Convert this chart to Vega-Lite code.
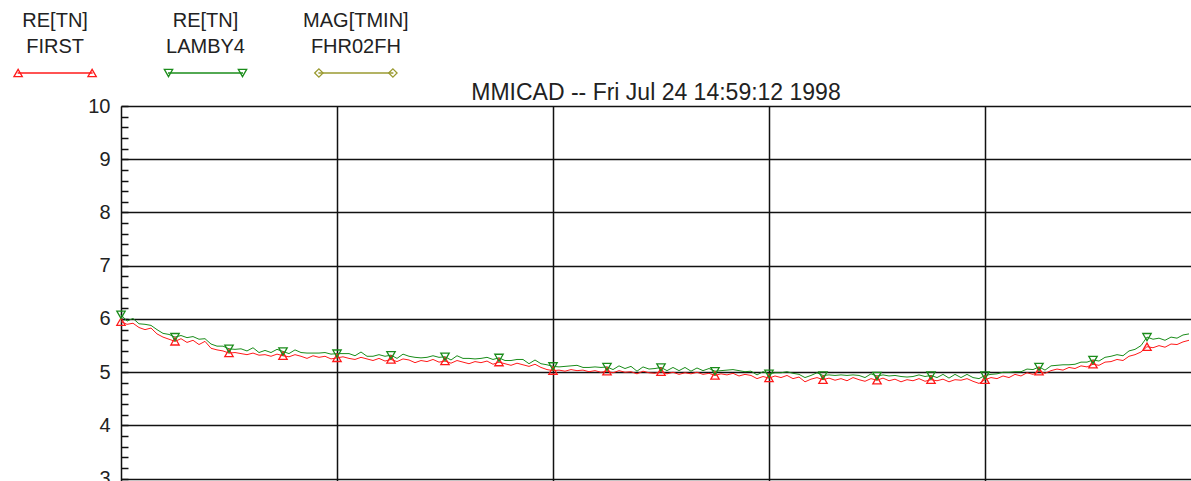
{
"$schema":"https://vega.github.io/schema/vega-lite/v6.json",
"background":"white",
"padding":{"left":10,"top":11,"right":0,"bottom":0},
"spacing":2,
"config":{"font":"Liberation Sans","view":{"stroke":null}},
"datasets":{
"legend":[{"series":"FIRST","l1":"RE[TN]","l2":"FIRST"},{"series":"LAMBY4","l1":"RE[TN]","l2":"LAMBY4"},{"series":"FHR02FH","l1":"MAG[TMIN]","l2":"FHR02FH"}],
"series":[
{"x":0,"FIRST":5.95,"LAMBY4":6.08},{"x":6,"FIRST":5.90,"LAMBY4":5.96},{"x":12,"FIRST":5.92,"LAMBY4":6.01},{"x":18,"FIRST":5.84,"LAMBY4":5.91},{"x":24,"FIRST":5.80,"LAMBY4":5.90},{"x":30,"FIRST":5.83,"LAMBY4":5.88},{"x":36,"FIRST":5.72,"LAMBY4":5.80},{"x":42,"FIRST":5.66,"LAMBY4":5.73},{"x":48,"FIRST":5.62,"LAMBY4":5.71},{"x":54,"FIRST":5.58,"LAMBY4":5.66},
{"x":60,"FIRST":5.63,"LAMBY4":5.69},{"x":66,"FIRST":5.56,"LAMBY4":5.65},{"x":72,"FIRST":5.60,"LAMBY4":5.67},{"x":78,"FIRST":5.52,"LAMBY4":5.62},{"x":84,"FIRST":5.58,"LAMBY4":5.63},{"x":90,"FIRST":5.45,"LAMBY4":5.53},{"x":96,"FIRST":5.42,"LAMBY4":5.49},{"x":102,"FIRST":5.40,"LAMBY4":5.49},{"x":108,"FIRST":5.36,"LAMBY4":5.44},{"x":114,"FIRST":5.37,"LAMBY4":5.43},
{"x":120,"FIRST":5.35,"LAMBY4":5.44},{"x":126,"FIRST":5.33,"LAMBY4":5.40},{"x":132,"FIRST":5.36,"LAMBY4":5.46},{"x":138,"FIRST":5.32,"LAMBY4":5.37},{"x":144,"FIRST":5.33,"LAMBY4":5.41},{"x":150,"FIRST":5.30,"LAMBY4":5.37},{"x":156,"FIRST":5.34,"LAMBY4":5.43},{"x":162,"FIRST":5.31,"LAMBY4":5.39},{"x":168,"FIRST":5.29,"LAMBY4":5.35},{"x":174,"FIRST":5.33,"LAMBY4":5.42},
{"x":180,"FIRST":5.30,"LAMBY4":5.37},{"x":186,"FIRST":5.26,"LAMBY4":5.36},{"x":192,"FIRST":5.31,"LAMBY4":5.36},{"x":198,"FIRST":5.28,"LAMBY4":5.36},{"x":204,"FIRST":5.30,"LAMBY4":5.37},{"x":210,"FIRST":5.25,"LAMBY4":5.34},{"x":216,"FIRST":5.27,"LAMBY4":5.35},{"x":222,"FIRST":5.29,"LAMBY4":5.35},{"x":228,"FIRST":5.26,"LAMBY4":5.35},{"x":234,"FIRST":5.24,"LAMBY4":5.31},
{"x":240,"FIRST":5.28,"LAMBY4":5.38},{"x":246,"FIRST":5.25,"LAMBY4":5.30},{"x":252,"FIRST":5.22,"LAMBY4":5.30},{"x":258,"FIRST":5.26,"LAMBY4":5.33},{"x":264,"FIRST":5.21,"LAMBY4":5.30},{"x":270,"FIRST":5.24,"LAMBY4":5.32},{"x":276,"FIRST":5.20,"LAMBY4":5.26},{"x":282,"FIRST":5.25,"LAMBY4":5.34},{"x":288,"FIRST":5.23,"LAMBY4":5.30},{"x":294,"FIRST":5.18,"LAMBY4":5.28},
{"x":300,"FIRST":5.22,"LAMBY4":5.27},{"x":306,"FIRST":5.20,"LAMBY4":5.28},{"x":312,"FIRST":5.24,"LAMBY4":5.31},{"x":318,"FIRST":5.19,"LAMBY4":5.28},{"x":324,"FIRST":5.21,"LAMBY4":5.29},{"x":330,"FIRST":5.17,"LAMBY4":5.23},{"x":336,"FIRST":5.22,"LAMBY4":5.31},{"x":342,"FIRST":5.19,"LAMBY4":5.26},{"x":348,"FIRST":5.16,"LAMBY4":5.26},{"x":354,"FIRST":5.20,"LAMBY4":5.25},
{"x":360,"FIRST":5.18,"LAMBY4":5.26},{"x":366,"FIRST":5.21,"LAMBY4":5.28},{"x":372,"FIRST":5.15,"LAMBY4":5.24},{"x":378,"FIRST":5.19,"LAMBY4":5.27},{"x":384,"FIRST":5.16,"LAMBY4":5.22},{"x":390,"FIRST":5.13,"LAMBY4":5.22},{"x":396,"FIRST":5.17,"LAMBY4":5.24},{"x":402,"FIRST":5.14,"LAMBY4":5.24},{"x":408,"FIRST":5.11,"LAMBY4":5.16},{"x":414,"FIRST":5.15,"LAMBY4":5.23},
{"x":420,"FIRST":5.09,"LAMBY4":5.16},{"x":426,"FIRST":5.05,"LAMBY4":5.14},{"x":432,"FIRST":5.03,"LAMBY4":5.11},{"x":438,"FIRST":5.04,"LAMBY4":5.10},{"x":444,"FIRST":5.02,"LAMBY4":5.11},{"x":450,"FIRST":5.05,"LAMBY4":5.12},{"x":456,"FIRST":5.03,"LAMBY4":5.13},{"x":462,"FIRST":5.04,"LAMBY4":5.09},{"x":468,"FIRST":5.01,"LAMBY4":5.09},{"x":474,"FIRST":5.03,"LAMBY4":5.10},
{"x":480,"FIRST":5.00,"LAMBY4":5.09},{"x":486,"FIRST":5.02,"LAMBY4":5.10},{"x":492,"FIRST":4.99,"LAMBY4":5.05},{"x":498,"FIRST":5.03,"LAMBY4":5.12},{"x":504,"FIRST":5.00,"LAMBY4":5.07},{"x":510,"FIRST":5.01,"LAMBY4":5.11},{"x":516,"FIRST":4.97,"LAMBY4":5.02},{"x":522,"FIRST":5.02,"LAMBY4":5.10},{"x":528,"FIRST":4.99,"LAMBY4":5.06},{"x":534,"FIRST":4.98,"LAMBY4":5.07},
{"x":540,"FIRST":5.01,"LAMBY4":5.09},{"x":546,"FIRST":4.97,"LAMBY4":5.03},{"x":552,"FIRST":5.00,"LAMBY4":5.09},{"x":558,"FIRST":4.96,"LAMBY4":5.03},{"x":564,"FIRST":4.99,"LAMBY4":5.09},{"x":570,"FIRST":4.97,"LAMBY4":5.02},{"x":576,"FIRST":5.00,"LAMBY4":5.08},{"x":582,"FIRST":4.96,"LAMBY4":5.03},{"x":588,"FIRST":4.98,"LAMBY4":5.07},{"x":594,"FIRST":4.94,"LAMBY4":5.02},
{"x":600,"FIRST":4.97,"LAMBY4":5.03},{"x":606,"FIRST":4.95,"LAMBY4":5.04},{"x":612,"FIRST":4.98,"LAMBY4":5.05},{"x":618,"FIRST":4.93,"LAMBY4":5.03},{"x":624,"FIRST":4.96,"LAMBY4":5.01},{"x":630,"FIRST":4.94,"LAMBY4":5.02},{"x":636,"FIRST":4.88,"LAMBY4":4.95},{"x":642,"FIRST":4.92,"LAMBY4":5.01},{"x":648,"FIRST":4.89,"LAMBY4":4.97},{"x":654,"FIRST":4.93,"LAMBY4":4.99},
{"x":660,"FIRST":4.90,"LAMBY4":4.99},{"x":666,"FIRST":4.94,"LAMBY4":5.01},{"x":672,"FIRST":4.88,"LAMBY4":4.98},{"x":678,"FIRST":4.91,"LAMBY4":4.96},{"x":684,"FIRST":4.82,"LAMBY4":4.90},{"x":690,"FIRST":4.87,"LAMBY4":4.94},{"x":696,"FIRST":4.90,"LAMBY4":4.99},{"x":702,"FIRST":4.86,"LAMBY4":4.94},{"x":708,"FIRST":4.89,"LAMBY4":4.95},{"x":714,"FIRST":4.85,"LAMBY4":4.94},
{"x":720,"FIRST":4.88,"LAMBY4":4.95},{"x":726,"FIRST":4.84,"LAMBY4":4.94},{"x":732,"FIRST":4.90,"LAMBY4":4.95},{"x":738,"FIRST":4.86,"LAMBY4":4.94},{"x":744,"FIRST":4.83,"LAMBY4":4.90},{"x":750,"FIRST":4.88,"LAMBY4":4.97},{"x":756,"FIRST":4.85,"LAMBY4":4.93},{"x":762,"FIRST":4.89,"LAMBY4":4.95},{"x":768,"FIRST":4.84,"LAMBY4":4.93},{"x":774,"FIRST":4.87,"LAMBY4":4.94},
{"x":780,"FIRST":4.82,"LAMBY4":4.92},{"x":786,"FIRST":4.86,"LAMBY4":4.91},{"x":792,"FIRST":4.84,"LAMBY4":4.92},{"x":798,"FIRST":4.88,"LAMBY4":4.95},{"x":804,"FIRST":4.83,"LAMBY4":4.92},{"x":810,"FIRST":4.86,"LAMBY4":4.94},{"x":816,"FIRST":4.84,"LAMBY4":4.90},{"x":822,"FIRST":4.87,"LAMBY4":4.96},{"x":828,"FIRST":4.82,"LAMBY4":4.89},{"x":834,"FIRST":4.86,"LAMBY4":4.96},
{"x":840,"FIRST":4.85,"LAMBY4":4.90},{"x":846,"FIRST":4.88,"LAMBY4":4.96},{"x":852,"FIRST":4.83,"LAMBY4":4.90},{"x":858,"FIRST":4.79,"LAMBY4":4.88},{"x":864,"FIRST":4.86,"LAMBY4":4.94},{"x":870,"FIRST":4.90,"LAMBY4":4.96},{"x":876,"FIRST":4.88,"LAMBY4":4.97},{"x":882,"FIRST":4.93,"LAMBY4":5.00},{"x":888,"FIRST":4.90,"LAMBY4":5.00},{"x":894,"FIRST":4.96,"LAMBY4":5.01},
{"x":900,"FIRST":4.93,"LAMBY4":5.01},{"x":906,"FIRST":4.99,"LAMBY4":5.06},{"x":912,"FIRST":4.96,"LAMBY4":5.05},{"x":918,"FIRST":5.02,"LAMBY4":5.10},{"x":924,"FIRST":4.98,"LAMBY4":5.04},{"x":930,"FIRST":5.03,"LAMBY4":5.12},{"x":936,"FIRST":5.06,"LAMBY4":5.13},{"x":942,"FIRST":5.04,"LAMBY4":5.14},{"x":948,"FIRST":5.09,"LAMBY4":5.14},{"x":954,"FIRST":5.07,"LAMBY4":5.15},
{"x":960,"FIRST":5.12,"LAMBY4":5.19},{"x":966,"FIRST":5.10,"LAMBY4":5.19},{"x":972,"FIRST":5.15,"LAMBY4":5.23},{"x":978,"FIRST":5.13,"LAMBY4":5.21},{"x":984,"FIRST":5.19,"LAMBY4":5.28},{"x":990,"FIRST":5.20,"LAMBY4":5.30},{"x":996,"FIRST":5.24,"LAMBY4":5.33},{"x":1002,"FIRST":5.22,"LAMBY4":5.31},{"x":1008,"FIRST":5.30,"LAMBY4":5.40},{"x":1014,"FIRST":5.33,"LAMBY4":5.43},
{"x":1020,"FIRST":5.38,"LAMBY4":5.50},{"x":1026,"FIRST":5.48,"LAMBY4":5.66},{"x":1032,"FIRST":5.46,"LAMBY4":5.62},{"x":1038,"FIRST":5.50,"LAMBY4":5.64},{"x":1044,"FIRST":5.47,"LAMBY4":5.60},{"x":1050,"FIRST":5.53,"LAMBY4":5.66},{"x":1056,"FIRST":5.52,"LAMBY4":5.64},{"x":1062,"FIRST":5.57,"LAMBY4":5.70},{"x":1068,"FIRST":5.60,"LAMBY4":5.72}
]},
"vconcat":[
{
"width":391,"height":52,
"data":{"name":"legend"},
"encoding":{
"x":{"field":"series","type":"nominal","scale":{"type":"point","domain":["FIRST","LAMBY4","FHR02FH"],"padding":0.3},"axis":null}
},
"layer":[
{"mark":{"type":"text","fontSize":20,"color":"#222","xOffset":-111},"encoding":{"y":{"datum":"l1","type":"nominal","scale":{"type":"point","domain":["l1","l2","key"],"padding":0},"axis":null},"text":{"field":"l1"}}},
{"mark":{"type":"text","fontSize":20,"color":"#222","xOffset":-111},"encoding":{"y":{"datum":"l2","type":"nominal"},"text":{"field":"l2"}}},
{"mark":{"type":"tick","orient":"horizontal","size":75,"thickness":1.5,"opacity":1,"xOffset":-111},"encoding":{"y":{"datum":"key","type":"nominal"},"color":{"field":"series","type":"nominal","scale":{"domain":["FIRST","LAMBY4","FHR02FH"],"range":["#ff1a1a","#1a8c1a","#9a9a30"]},"legend":null}}},
{"mark":{"type":"point","xOffset":-148,"filled":false,"size":70,"strokeWidth":1.3,"opacity":1},"encoding":{"y":{"datum":"key","type":"nominal"},"color":{"field":"series","type":"nominal","legend":null},"shape":{"field":"series","type":"nominal","scale":{"domain":["FIRST","LAMBY4","FHR02FH"],"range":["triangle-up","triangle-down","diamond"]},"legend":null}}},
{"mark":{"type":"point","xOffset":-74,"filled":false,"size":70,"strokeWidth":1.3,"opacity":1},"encoding":{"y":{"datum":"key","type":"nominal"},"color":{"field":"series","type":"nominal","legend":null},"shape":{"field":"series","type":"nominal","legend":null}}}
]
},
{
"width":1070,"height":377,
"title":{"text":"MMICAD -- Fri Jul 24 14:59:12 1998","fontSize":23,"fontWeight":"normal","color":"#222","anchor":"middle","offset":-9},
"data":{"name":"series"},
"transform":[{"fold":["FIRST","LAMBY4"],"as":["series","value"]}],
"encoding":{
"x":{"field":"x","type":"quantitative","scale":{"domain":[0,1070],"nice":false,"zero":false},"axis":{"values":[216,432,648,864],"grid":true,"gridColor":"#111","gridWidth":1.5,"labels":false,"ticks":false,"domain":false,"title":null}},
"y":{"field":"value","type":"quantitative","scale":{"domain":[2.92,10],"nice":false,"zero":false},"axis":{"values":[3,3.2,3.4,3.6,3.8,4,4.2,4.4,4.6,4.8,5,5.2,5.4,5.6,5.8,6,6.2,6.4,6.6,6.8,7,7.2,7.4,7.6,7.8,8,8.2,8.4,8.6,8.8,9,9.2,9.4,9.6,9.8,10],"title":null,"format":"~g","labelExpr":"datum.value % 1 == 0 ? datum.label : ''","labelFontSize":20,"labelColor":"#222","labelPadding":18,"labelOverlap":false,"labelFlush":false,"labelBound":false,"tickSize":-7,"tickColor":"#111","tickWidth":1.5,"domainColor":"#111","domainWidth":1.5,"grid":true,"gridColor":"#111","gridWidth":1.5,"gridOpacity":{"condition":{"test":"datum.value % 1 == 0","value":1},"value":0},"minExtent":111}},
"color":{"field":"series","type":"nominal","scale":{"domain":["FIRST","LAMBY4","FHR02FH"],"range":["#ff1a1a","#1a8c1a","#9a9a30"]},"legend":null}
},
"layer":[
{"mark":{"type":"line","strokeWidth":1}},
{"transform":[{"filter":"datum.x % 54 == 0"}],"mark":{"type":"point","filled":false,"size":70,"strokeWidth":1.3,"opacity":1},"encoding":{"shape":{"field":"series","type":"nominal","scale":{"domain":["FIRST","LAMBY4","FHR02FH"],"range":["triangle-up","triangle-down","diamond"]},"legend":null}}}
]
}
]
}
